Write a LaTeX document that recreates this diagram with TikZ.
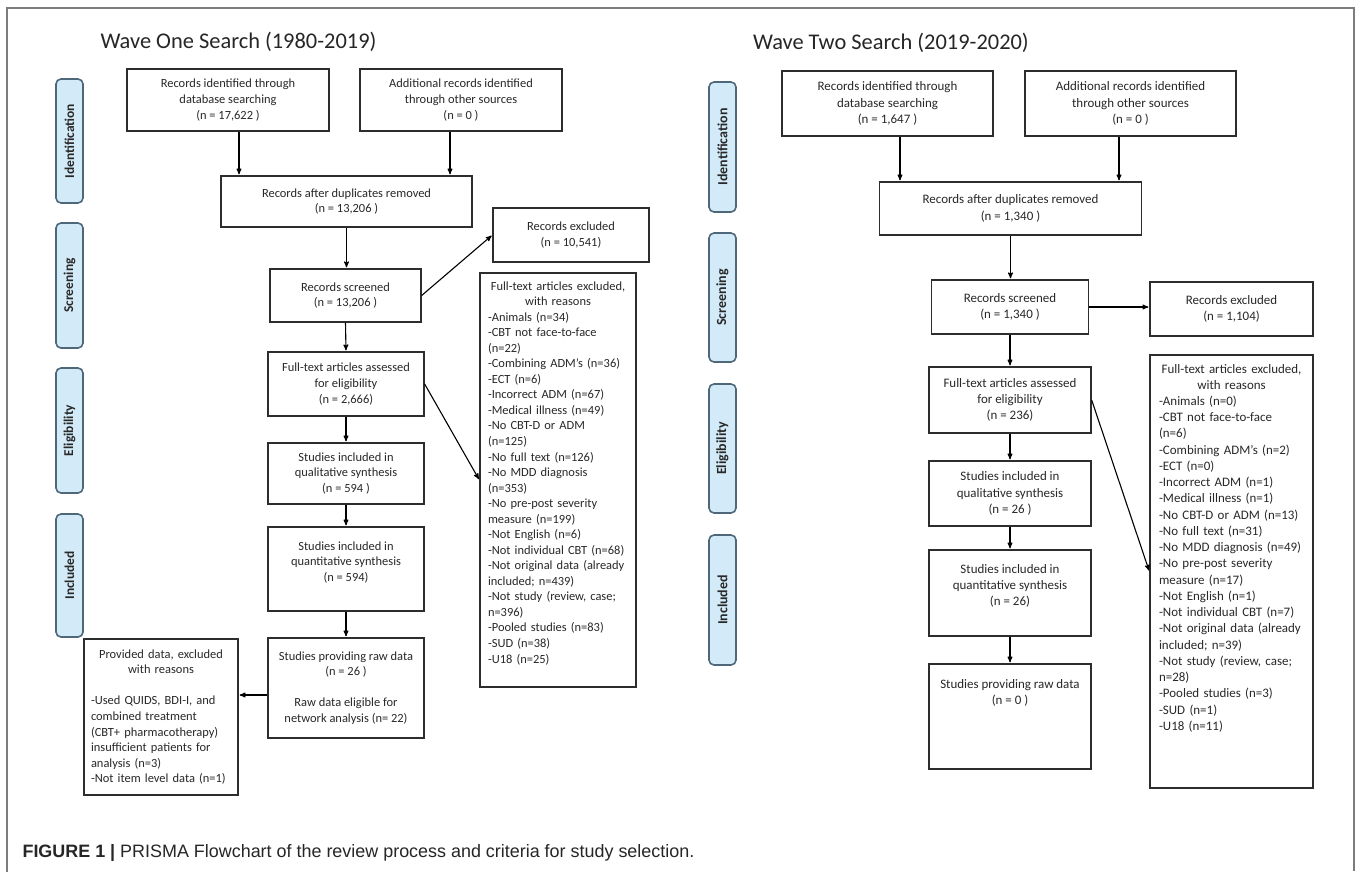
\documentclass[tikz,border=0pt]{standalone}
\usepackage{fontspec}
\setmainfont{Carlito}
\newfontfamily\capfont{Liberation Sans}
\usetikzlibrary{arrows}
\definecolor{phasefill}{RGB}{211,235,248}
\definecolor{phaseline}{RGB}{78,104,122}
\definecolor{framegray}{RGB}{125,125,125}
\definecolor{boxline}{RGB}{45,45,45}
\definecolor{txt}{RGB}{40,40,40}

\begin{document}
\begin{tikzpicture}[->,>=stealth',shorten >=1pt,x=1bp,y=-1bp,line width=1.1bp,
  box/.style={draw=boxline,line width=1.3bp,fill=white,text=txt,align=center,inner sep=0pt},
  one/.style={box,font=\fontsize{12.5}{15.6}\selectfont},
  two/.style={box,font=\fontsize{13}{16.3}\selectfont},
  phase/.style={draw=phaseline,fill=phasefill,line width=1.6bp,rounded corners=5bp,rotate=90,
    inner sep=0pt,text=txt,font=\bfseries\fontsize{13.5}{16}\selectfont}]

 \fill[white] (0,0) rectangle (1357,872);
 \useasboundingbox (0,0) rectangle (1357,872);
 \draw[-,framegray,line width=1.8bp] (7,872) -- (7,8) -- (1354,8) -- (1354,872);

 % wave one
 \node[anchor=west,inner sep=0pt,font=\fontsize{22.5}{27}\selectfont,text=black!85] (t1) at (100,42) {Wave One Search (1980-2019)};

 \node[phase,minimum width=124bp,minimum height=27bp] (idph1) at (69.5,141) {Identification};
 \node[phase,minimum width=125bp,minimum height=27bp] (scph1) at (69.5,285.5) {Screening};
 \node[phase,minimum width=125bp,minimum height=27bp] (elph1) at (69.5,430.5) {Eligibility};
 \node[phase,minimum width=123bp,minimum height=27bp] (inph1) at (69.5,575.5) {Included};

 \node[one,minimum width=202bp,minimum height=62bp] (db1) at (228,100) {Records identified through\\database searching\\(n = 17,622 )};
 \node[one,minimum width=202bp,minimum height=62bp] (other1) at (461,100) {Additional records identified\\through other sources\\(n = 0 )};
 \node[one,minimum width=251bp,minimum height=51bp] (dup1) at (346.5,201.5) {Records after duplicates removed\\(n = 13,206 )};
 \node[one,minimum width=151bp,minimum height=53bp] (scr1) at (345.5,295.5) {Records screened\\(n = 13,206 )};
 \node[one,minimum width=156bp,minimum height=54bp] (exc1) at (571,235) {Records excluded\\(n = 10,541)};
 \node[one,minimum width=156bp,minimum height=64bp] (full1) at (346,384) {Full-text articles assessed\\for eligibility\\(n = 2,666)};
 \node[one,minimum width=156bp,minimum height=61bp] (qual1) at (346,473.5) {Studies included in\\qualitative synthesis\\(n = 594 )};
 \node[one,minimum width=156bp,minimum height=84bp] (quan1) at (346,569) {Studies included in\\quantitative synthesis\\(n = 594)\\\mbox{}};
 \node[one,minimum width=156bp,minimum height=100bp] (raw1) at (346,688) {Studies providing raw data\\(n = 26 )\\\mbox{}\\Raw data eligible for\\network analysis (n= 22)};
 \node[one,align=left,text width=140bp,inner xsep=7bp,minimum height=156bp] (prov1) at (161,717)
   {\makebox[\linewidth]{Provided data, excluded}\\\makebox[\linewidth]{with reasons}\\\mbox{}\\
    -Used QUIDS, BDI-I, and\\combined treatment\\(CBT+ pharmacotherapy)\\insufficient patients for\\
    analysis (n=3)\\-Not item level data (n=1)};
 \node[one,align=left,text width=140bp,inner xsep=8bp,minimum height=414bp] (reas1) at (558,480)
   {\makebox[\linewidth]{Full-text articles excluded,}\\\makebox[\linewidth]{with reasons}\\
    -Animals (n=34)\\-CBT not face-to-face\\(n=22)\\-Combining ADM’s (n=36)\\-ECT (n=6)\\
    -Incorrect ADM (n=67)\\-Medical illness (n=49)\\-No CBT-D or ADM\\(n=125)\\-No full text (n=126)\\
    -No MDD diagnosis\\(n=353)\\-No pre-post severity\\measure (n=199)\\-Not English (n=6)\\
    -Not individual CBT (n=68)\\-Not original data (already\\included; n=439)\\-Not study (review, case;\\
    n=396)\\-Pooled studies (n=83)\\-SUD (n=38)\\-U18 (n=25)\\\mbox{}};

 % wave two
 \node[anchor=west,inner sep=0pt,font=\fontsize{22.5}{27}\selectfont,text=black!85] (t2) at (752.5,43) {Wave Two Search (2019-2020)};

 \node[phase,minimum width=130bp,minimum height=27bp,font=\bfseries\fontsize{14}{16}\selectfont] (idph2) at (722.5,147) {Identification};
 \node[phase,minimum width=129bp,minimum height=27bp,font=\bfseries\fontsize{14}{16}\selectfont] (scph2) at (722.5,297.5) {Screening};
 \node[phase,minimum width=129bp,minimum height=27bp,font=\bfseries\fontsize{14}{16}\selectfont] (elph2) at (722.5,448.5) {Eligibility};
 \node[phase,minimum width=130bp,minimum height=27bp,font=\bfseries\fontsize{14}{16}\selectfont] (inph2) at (722.5,600) {Included};

 \node[two,minimum width=211bp,minimum height=65bp] (db2) at (887.5,103.5) {Records identified through\\database searching\\(n = 1,647 )};
 \node[two,minimum width=211bp,minimum height=65bp] (other2) at (1130.5,103.5) {Additional records identified\\through other sources\\(n = 0 )};
 \node[two,minimum width=262bp,minimum height=53bp] (dup2) at (1010.5,208.5) {Records after duplicates removed\\(n = 1,340 )};
 \node[two,minimum width=156.5bp,minimum height=54bp] (scr2) at (1010,307) {Records screened\\(n = 1,340 )};
 \node[two,minimum width=163bp,minimum height=54bp] (exc2) at (1231.5,309) {Records excluded\\(n = 1,104)};
 \node[two,minimum width=162bp,minimum height=66bp] (full2) at (1010,400) {Full-text articles assessed\\for eligibility\\(n = 236)};
 \node[two,minimum width=162bp,minimum height=65bp] (qual2) at (1010,493.5) {Studies included in\\qualitative synthesis\\(n = 26 )};
 \node[two,minimum width=162bp,minimum height=86bp] (quan2) at (1010,593) {Studies included in\\quantitative synthesis\\(n = 26)\\\mbox{}};
 \node[two,minimum width=162bp,minimum height=105bp] (raw2) at (1010,716.5) {Studies providing raw data\\(n = 0 )\\\mbox{}\\\mbox{}\\\mbox{}};
 \node[two,align=left,text width=145bp,inner xsep=9bp,minimum height=433bp] (reas2) at (1231.5,571.5)
   {\makebox[\linewidth]{Full-text articles excluded,}\\\makebox[\linewidth]{with reasons}\\
    -Animals (n=0)\\-CBT not face-to-face\\(n=6)\\-Combining ADM’s (n=2)\\-ECT (n=0)\\
    -Incorrect ADM (n=1)\\-Medical illness (n=1)\\-No CBT-D or ADM (n=13)\\-No full text (n=31)\\
    -No MDD diagnosis (n=49)\\-No pre-post severity\\measure (n=17)\\-Not English (n=1)\\
    -Not individual CBT (n=7)\\-Not original data (already\\included; n=39)\\-Not study (review, case;\\
    n=28)\\-Pooled studies (n=3)\\-SUD (n=1)\\-U18 (n=11)\\\mbox{}\\\mbox{}\\\mbox{}};

 \node[anchor=west,inner sep=0pt,text=black!85,font=\capfont\fontsize{18}{21}\selectfont] (cap) at (22,853)
   {\textbf{FIGURE 1 |} PRISMA Flowchart of the review process and criteria for study selection.};

 \path
    ([xshift=11bp]db1.south)     edge ([xshift=11bp]db1.south |- dup1.north)
    ([xshift=-11bp]other1.south) edge ([xshift=-11bp]other1.south |- dup1.north)
    (dup1.south)  edge (dup1.south |- scr1.north)
    (scr1.east)   edge (exc1.west)
    (scr1.south)  edge (full1.north)
    (full1.south) edge (qual1.north)
    (qual1.south) edge (quan1.north)
    (quan1.south) edge (raw1.north)
    (full1.east)  edge (reas1.west)
    ([yshift=-7bp]raw1.west) edge ([yshift=-7bp]raw1.west -| prov1.east);

 \path
    ([xshift=12.5bp]db2.south)     edge ([xshift=12.5bp]db2.south |- dup2.north)
    ([xshift=-11.5bp]other2.south) edge ([xshift=-11.5bp]other2.south |- dup2.north)
    (dup2.south)  edge (dup2.south |- scr2.north)
    (scr2.east)   edge (scr2.east -| exc2.west)
    (scr2.south)  edge (full2.north)
    (full2.south) edge (qual2.north)
    (qual2.south) edge (quan2.north)
    (quan2.south) edge (raw2.north)
    (full2.east)  edge (reas2.west);

\end{tikzpicture}
\end{document}
